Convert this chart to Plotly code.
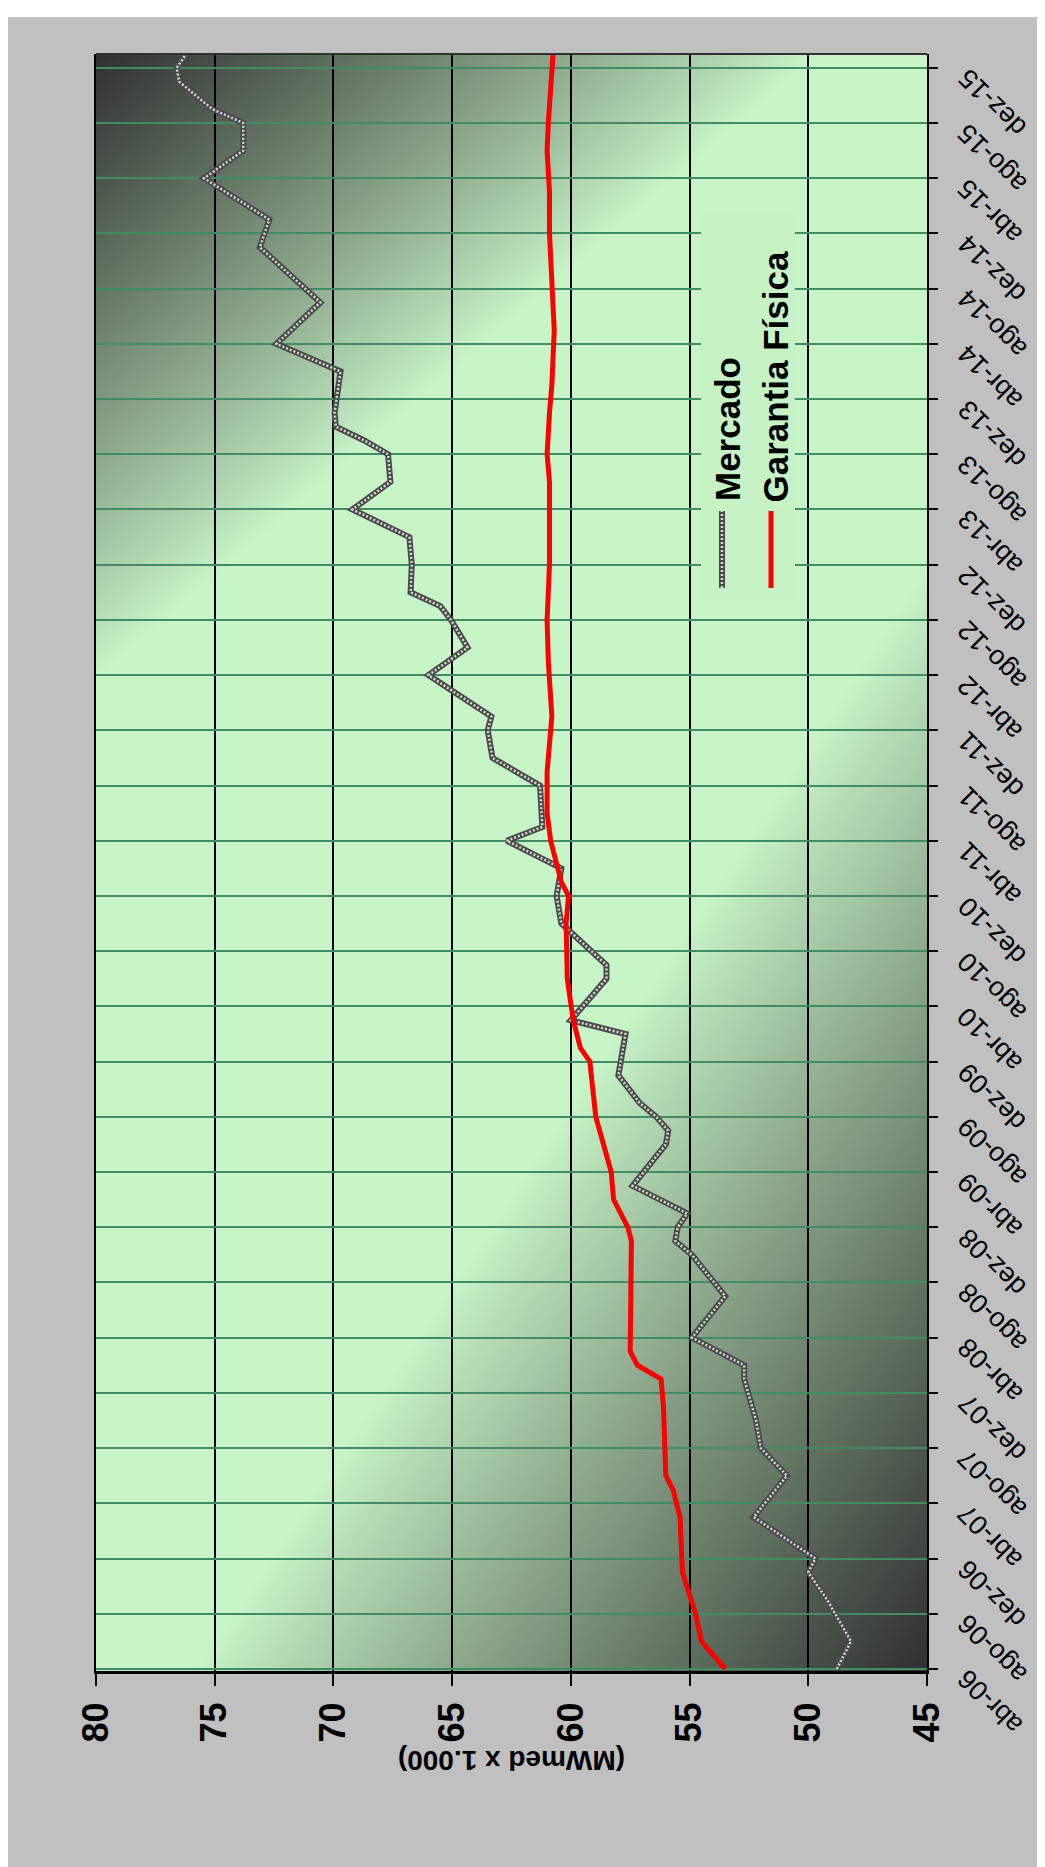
import zlib, struct, base64
import plotly.graph_objects as go

# ---------------- data ----------------
MONTH_LABELS = ["abr-06", "ago-06", "dez-06", "abr-07", "ago-07", "dez-07",
                "abr-08", "ago-08", "dez-08", "abr-09", "ago-09", "dez-09",
                "abr-10", "ago-10", "dez-10", "abr-11", "ago-11", "dez-11",
                "abr-12", "ago-12", "dez-12", "abr-13", "ago-13", "dez-13",
                "abr-14", "ago-14", "dez-14", "abr-15", "ago-15", "dez-15"]
VALUE_TICKS = [45, 50, 55, 60, 65, 70, 75, 80]

mercado_dates = ["2006-04", "2006-06", "2006-09", "2006-11", "2006-12", "2007-03", "2007-06",
                 "2007-08", "2007-10", "2008-01", "2008-02", "2008-04", "2008-07", "2008-10",
                 "2008-11", "2008-12", "2009-01", "2009-03", "2009-06", "2009-07", "2009-08",
                 "2009-09", "2009-11", "2010-02", "2010-03", "2010-06", "2010-07", "2010-10",
                 "2010-12", "2011-02", "2011-04", "2011-05", "2011-08", "2011-09", "2011-10",
                 "2011-12", "2012-01", "2012-04", "2012-06", "2012-08", "2012-09", "2012-10",
                 "2012-12", "2013-02", "2013-04", "2013-06", "2013-08", "2013-09", "2013-10",
                 "2013-11", "2014-02", "2014-04", "2014-07", "2014-11", "2015-01", "2015-04",
                 "2015-06", "2015-08", "2015-09", "2015-11", "2015-12", "2016-01"]
mercado_values = [48.8, 48.2, 49.2, 50.0, 49.7, 52.3, 50.9,
                  52.0, 52.2, 52.7, 52.7, 54.9, 53.5, 54.9,
                  55.6, 55.5, 55.1, 57.4, 56.0, 55.9, 56.4,
                  57.1, 58.0, 57.7, 60.0, 58.5, 58.5, 60.4,
                  60.6, 60.4, 62.7, 61.2, 61.3, 62.3, 63.3,
                  63.5, 63.35, 66.0, 64.35, 65.05, 65.5, 66.75,
                  66.7, 66.8, 69.2, 67.6, 67.7, 68.7, 69.9,
                  69.95, 69.7, 72.4, 70.55, 73.1, 72.7, 75.45,
                  73.8, 73.8, 75.1, 76.5, 76.6, 76.2]

garantia_dates = ["2006-04", "2006-06", "2006-08", "2006-10", "2006-11", "2007-03", "2007-05",
                  "2007-06", "2007-11", "2008-01", "2008-02", "2008-03", "2008-11", "2008-12",
                  "2009-02", "2009-04", "2009-06", "2009-08", "2009-12", "2010-01", "2010-03",
                  "2010-06", "2010-10", "2010-12", "2011-01", "2011-04", "2011-06", "2011-09",
                  "2012-01", "2012-05", "2012-08", "2012-12", "2013-06", "2013-08", "2013-11",
                  "2014-01", "2014-05", "2014-08", "2014-12", "2015-03", "2015-06", "2015-08",
                  "2015-11", "2016-01"]
garantia_values = [53.5, 54.5, 54.75, 55.1, 55.3, 55.4, 55.7,
                   56.0, 56.1, 56.2, 57.2, 57.5, 57.45, 57.6,
                   58.2, 58.3, 58.6, 58.95, 59.2, 59.6, 59.9,
                   60.15, 60.2, 60.1, 60.4, 60.85, 61.0, 61.0,
                   60.8, 60.95, 61.0, 60.9, 60.9, 61.0, 60.9,
                   60.8, 60.7, 60.8, 60.9, 60.9, 61.0, 60.95,
                   60.8, 60.75]


def month_index(s):
    y, m = s.split("-")
    return (int(y) - 2006) * 12 + (int(m) - 4)


mercado_m = [month_index(d) for d in mercado_dates]
garantia_m = [month_index(d) for d in garantia_dates]
tick_m = [4 * i for i in range(len(MONTH_LABELS))]

# ---------------- figure geometry ----------------
W, H = 1045, 1867
L, R, T, B = 88, 919, 46, 1663
PW, PH = R - L, B - T


# ---------------- background gradient image (styling only) ----------------
def gradient_png(w, h):
    light = (200, 245, 200)
    dark = (48, 50, 48)
    # corner fall-off extents in plot pixels (horizontal, vertical)
    a1, b1 = 720.0, 620.0     # top-left corner
    a2, b2 = 730.0, 1100.0    # bottom-right corner
    raw = bytearray()
    for j in range(h):
        raw.append(0)
        ypx = j / (h - 1) * PH
        for i in range(w):
            xpx = i / (w - 1) * PW
            r1 = xpx / a1 + ypx / b1
            r2 = (PW - xpx) / a2 + (PH - ypx) / b2
            f1 = max(0.0, 1.0 - r1)
            f2 = max(0.0, 1.0 - r2)
            f = max(f1, f2)
            f = f ** 0.9
            raw += bytes(int(round(light[k] * (1 - f) + dark[k] * f)) for k in range(3))

    def chunk(tag, data):
        c = struct.pack(">I", len(data)) + tag + data
        return c + struct.pack(">I", zlib.crc32(tag + data) & 0xffffffff)

    png = (b"\x89PNG\r\n\x1a\n"
           + chunk(b"IHDR", struct.pack(">IIBBBBB", w, h, 8, 2, 0, 0, 0))
           + chunk(b"IDAT", zlib.compress(bytes(raw), 9))
           + chunk(b"IEND", b""))
    return "data:image/png;base64," + base64.b64encode(png).decode()


bg_uri = gradient_png(208, 404)


def px(xp):
    return (xp - L) / PW


def py(yp):
    return (B - yp) / PH


FONT = "Liberation Sans, Arial, sans-serif"

fig = go.Figure()

fig.add_trace(go.Scatter(x=mercado_values, y=mercado_m, mode="lines",
                         line=dict(color="#4a4a4a", width=6), showlegend=False,
                         hoverinfo="skip"))
fig.add_trace(go.Scatter(x=mercado_values, y=mercado_m, mode="lines", name="Mercado",
                         line=dict(color="#d8d8d8", width=2.5, dash="2px,2px"),
                         showlegend=False))
fig.add_trace(go.Scatter(x=garantia_values, y=garantia_m, mode="lines", name="Garantia Física",
                         line=dict(color="#ff0000", width=5), showlegend=False))

shapes = []
# outer white strips
shapes.append(dict(type="rect", xref="paper", yref="paper", x0=px(-10), x1=px(W + 10),
                   y0=py(9), y1=py(-10), fillcolor="white", line=dict(width=0), layer="below"))
shapes.append(dict(type="rect", xref="paper", yref="paper", x0=px(1037), x1=px(W + 10),
                   y0=py(H + 10), y1=py(-10), fillcolor="white", line=dict(width=0), layer="below"))
# top border
shapes.append(dict(type="line", xref="paper", yref="paper", x0=0, x1=1, y0=1, y1=1,
                   line=dict(color="#303030", width=2), layer="above"))
# legend box (covers gridlines)
shapes.append(dict(type="rect", xref="paper", yref="paper", x0=px(693), x1=px(787),
                   y0=py(592), y1=py(205), fillcolor="#c6f2c6", line=dict(width=0),
                   layer="above"))
# legend symbols
shapes.append(dict(type="line", xref="paper", yref="paper", x0=px(714), x1=px(714),
                   y0=py(580), y1=py(503), line=dict(color="#4a4a4a", width=6), layer="above"))
shapes.append(dict(type="line", xref="paper", yref="paper", x0=px(714), x1=px(714),
                   y0=py(580), y1=py(503), line=dict(color="#d8d8d8", width=2.5, dash="2px,2px"),
                   layer="above"))
shapes.append(dict(type="line", xref="paper", yref="paper", x0=px(763), x1=px(763),
                   y0=py(580), y1=py(503), line=dict(color="#ff0000", width=5), layer="above"))

annotations = []
# legend text
annotations.append(dict(text="<b>Mercado</b>", xref="paper", yref="paper", x=px(720), y=py(495),
                        xanchor="center", yanchor="bottom", textangle=-90, showarrow=False,
                        font=dict(family=FONT, size=35, color="black")))
annotations.append(dict(text="<b>Garantia Física</b>", xref="paper", yref="paper", x=px(767),
                        y=py(497), xanchor="center", yanchor="bottom", textangle=-90,
                        showarrow=False, font=dict(family=FONT, size=35, color="black")))
# axis title (upside down)
annotations.append(dict(text="<b>(MWmed x 1.000)</b>", xref="paper", yref="paper", x=0.5,
                        y=py(1753), xanchor="center", yanchor="middle", textangle=180,
                        showarrow=False, font=dict(family=FONT, size=28, color="black")))
# month tick labels (rotated)
for m, lab in zip(tick_m, MONTH_LABELS):
    annotations.append(dict(text=lab, xref="paper", yref="y", x=1, y=m, xanchor="left",
                            yanchor="top", xshift=22, yshift=8, textangle=-135,
                            showarrow=False, font=dict(family=FONT, size=27, color="black")))

fig.update_layout(
    width=W, height=H,
    margin=dict(l=L, r=W - R, t=T, b=H - B, autoexpand=False),
    paper_bgcolor="#c0c0c0",
    plot_bgcolor="#c6f2c6",
    showlegend=False,
    images=[dict(source=bg_uri, xref="paper", yref="paper", x=0, y=1, sizex=1, sizey=1,
                 sizing="stretch", xanchor="left", yanchor="top", layer="below")],
    shapes=shapes,
    annotations=annotations,
    xaxis=dict(range=[80, 45], tickmode="array", tickvals=VALUE_TICKS,
               ticktext=[str(v) for v in VALUE_TICKS], tickangle=-90,
               ticks="outside", ticklen=12, tickwidth=1.5, tickcolor="black",
               tickfont=dict(family=FONT, size=36, color="black", weight="bold"),
               ticklabelstandoff=2,
               showgrid=True, gridcolor="black", gridwidth=1.5, zeroline=False,
               showline=True, linecolor="black", linewidth=3, mirror=False),
    yaxis=dict(range=[-0.15, 117.0], side="right", tickmode="array", tickvals=tick_m,
               showticklabels=False, ticks="outside", ticklen=9, tickwidth=1.5,
               tickcolor="black", showgrid=True, gridcolor="rgb(64,140,100)", gridwidth=2,
               zeroline=False, showline=True, linecolor="black", linewidth=1.5, mirror=True),
)

fig.write_html("out.html")
